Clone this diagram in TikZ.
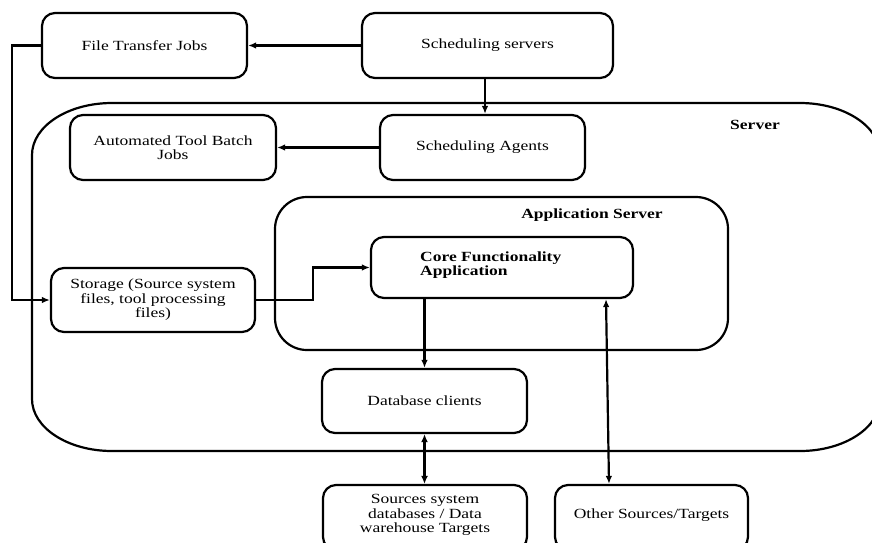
\documentclass[tikz,border=0pt]{standalone}
\usepackage{fontspec}
\setmainfont{Liberation Serif}[FakeStretch=1.25]
\usetikzlibrary{arrows.meta,calc}
\tikzset{
  box/.style={draw, line width=2.2pt, rounded corners=13pt, align=center, inner sep=0pt,
    font=\fontsize{14}{14.5}\selectfont},
  arr/.style={line width=2.2pt, -{Latex[length=8pt,width=6.5pt]}},
  darr/.style={line width=3pt, {Latex[length=8pt,width=7pt]}-{Latex[length=8pt,width=7pt]}},
  barr/.style={line width=2.2pt, {Latex[length=8pt,width=6.5pt]}-{Latex[length=8pt,width=6.5pt]}},
  lbl/.style={font=\fontsize{14}{14.5}\selectfont\bfseries, inner sep=0pt}
}
\begin{document}
\begin{tikzpicture}[x=1pt,y=-1pt]
\clip (0,0) rectangle (872,542);
% Server container
\draw[line width=2.2pt] (112,103) -- (800,103)
  arc[start angle=-90,end angle=0,x radius=80,y radius=52] -- (880,399)
  arc[start angle=0,end angle=90,x radius=80,y radius=52] -- (112,451)
  arc[start angle=90,end angle=180,x radius=80,y radius=52] -- (32,155)
  arc[start angle=180,end angle=270,x radius=80,y radius=52] -- cycle;
\node[lbl] (serverlbl) at (755,125) {Server};
% Application server container
\node[box, rounded corners=32pt, minimum width=453pt, minimum height=153pt] (appsrv) at (501.5,273.5) {};
\node[lbl] (applbl) at (592,215) {Application Server};
% boxes
\node[box, minimum width=205pt, minimum height=65pt] (ftj) at (144.5,45.5) {File Transfer Jobs};
\node[box, minimum width=251pt, minimum height=65pt] (ss) at (487.5,45.5) {Scheduling servers};
\node[box, minimum width=206pt, minimum height=65pt] (atbj) at (173,147.5) {Automated Tool Batch\\Jobs};
\node[box, minimum width=205pt, minimum height=65pt] (sa) at (482.5,147.5) {Scheduling Agents};
\node[box, minimum width=262pt, minimum height=61pt] (core) at (502,267.5) {};
\node[lbl, anchor=west, align=left] (coretxt) at (420,265) {Core Functionality\\Application};
\node[box, minimum width=204pt, minimum height=64pt] (stor) at (153,300) {Storage (Source system\\files, tool processing\\files)};
\node[box, minimum width=205pt, minimum height=64pt] (db) at (424.5,401) {Database clients};
\node[box, minimum width=204pt, minimum height=65pt] (src) at (425,517.5) {};
\node[font=\fontsize{14}{14.5}\selectfont, align=center, inner sep=0pt] (srctxt) at (425,515) {Sources system\\databases / Data\\warehouse Targets};
\node[box, minimum width=193pt, minimum height=65pt] (oth) at (651.5,517.5) {};
\node[font=\fontsize{14}{14.5}\selectfont, inner sep=0pt] (othtxt) at (651.5,515) {Other Sources/Targets};
% connectors
\draw[arr] (ss.west) -- (ftj.east);
\draw[arr] ([xshift=-2.5pt]ss.south) -- ([xshift=-2.5pt]ss.south |- sa.north);
\draw[arr] (sa.west) -- (atbj.east);
\draw[arr] (ftj.west) -- ++(-29,0) |- (stor.west);
\draw[arr] (stor.east) -- ++(57,0) |- (core.west);
\draw[arr] (db.north |- core.south) -- (db.north);
\draw[darr] (db.south) -- (db.south |- src.north);
\draw[barr] ($(core.south)+(104,0)$) -- ($(oth.north)+(-42.5,0)$);
\end{tikzpicture}
\end{document}
